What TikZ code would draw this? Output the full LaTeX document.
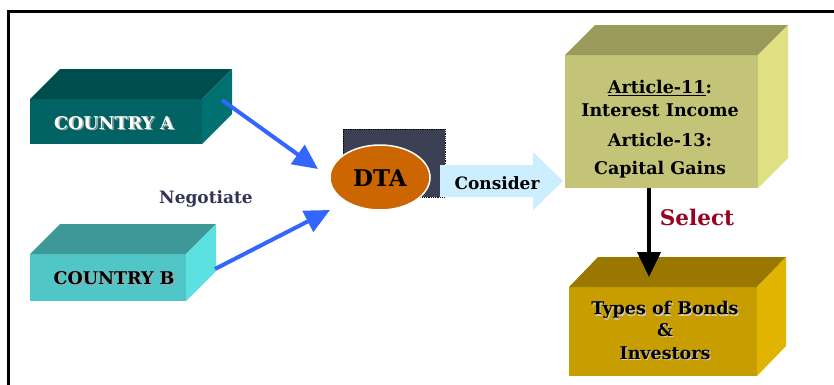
\documentclass[tikz,border=0pt]{standalone}
\usepackage{fontspec}
\setmainfont{DejaVu Serif}
\usetikzlibrary{arrows.meta,shapes.geometric}
\definecolor{caFront}{HTML}{006262}
\definecolor{caTop}{HTML}{004D4D}
\definecolor{caSide}{HTML}{007070}
\definecolor{cbFront}{HTML}{50C6C6}
\definecolor{cbTop}{HTML}{3D9898}
\definecolor{cbSide}{HTML}{5CE0E0}
\definecolor{arFront}{HTML}{C4C478}
\definecolor{arTop}{HTML}{9A9A5A}
\definecolor{arSide}{HTML}{E0E082}
\definecolor{bdFront}{HTML}{C89D00}
\definecolor{bdTop}{HTML}{9A7800}
\definecolor{bdSide}{HTML}{E0B400}
\definecolor{dtaBack}{HTML}{3B4055}
\definecolor{dtaOrange}{HTML}{CC6600}
\definecolor{consBlue}{HTML}{CCEEFF}
\definecolor{arrBlue}{HTML}{3366FF}
\definecolor{selRed}{HTML}{990022}
\definecolor{negText}{HTML}{333355}
\newcommand{\cubefaces}[4]{%
  \fill[#2] (#1.north west) -- ++(#4,-30) -- ([shift={(#4,-30)}]#1.north east) -- (#1.north east) -- cycle;
  \fill[#3] (#1.north east) -- ++(#4,-30) -- ([shift={(#4,-30)}]#1.south east) -- (#1.south east) -- cycle;
}
\newcommand{\bigbf}{\bfseries\fontsize{17.5}{20}\selectfont}
\tikzset{
  front/.style={inner sep=0pt, outer sep=0pt, anchor=center},
  lbl/.style={inner sep=0pt, font=\bigbf},
  shadowlbl/.style={inner sep=0pt, font=\bigbf, text=gray!70},
  bluearr/.style={arrBlue, line width=4pt, -{Triangle[length=25pt,width=23pt]}},
}
\begin{document}
\begin{tikzpicture}[x=1pt,y=-1pt]
\useasboundingbox (0,0) rectangle (834,384);
\fill[white] (0,0) rectangle (834,384);
\draw[line width=3pt] (8,400) -- (8,11) -- (860,11);

% Country A
\node[front, fill=caFront, minimum width=172pt, minimum height=45pt] (ca) at (116,121.5) {};
\cubefaces{ca}{caTop}{caSide}{30}
\node[shadowlbl] (cash) at (115.5,124.5) {COUNTRY A};
\node[lbl, text=white] (calbl) at (114,123) {COUNTRY A};

% Country B
\node[front, fill=cbFront, minimum width=156pt, minimum height=47pt] (cb) at (108,277.5) {};
\cubefaces{cb}{cbTop}{cbSide}{30}
\node[shadowlbl] (cbsh) at (115.5,279.5) {COUNTRY B};
\node[lbl, text=black] (cblbl) at (114,278) {COUNTRY B};

% Negotiate
\node[lbl, text=negText, font=\bfseries\fontsize{17}{20}\selectfont] (neg) at (206,199) {Negotiate};

% DTA
\node[front, fill=dtaBack, draw=black, densely dotted, line width=0.8pt, minimum width=102pt, minimum height=68pt] (dtaback) at (394,163) {};
\node[front, ellipse, fill=dtaOrange, draw=white, line width=1.5pt, minimum width=100pt, minimum height=65pt] (dta) at (380,177.5) {};
\node[lbl, font=\bfseries\fontsize{23}{26}\selectfont] (dtalbl) at (380,178) {DTA};

% Consider arrow
\fill[consBlue] (440,165) -- (533,165) -- (533,152) -- (563,181) -- (533,210) -- (533,197) -- (440,197) -- cycle;
\node[lbl, font=\bfseries\fontsize{17}{20}\selectfont] (cons) at (497,183) {Consider};

% Article box
\node[front, fill=arFront, minimum width=193pt, minimum height=133pt] (art) at (661.5,121.5) {};
\cubefaces{art}{arTop}{arSide}{30}
\node[lbl] (art1) at (660,88) {\underline{Article-11}:};
\node[lbl] (art2) at (660,110) {Interest Income};
\node[lbl] (art3) at (660,140) {Article-13:};
\node[lbl] (art4) at (660,170) {Capital Gains};

% Bonds box
\node[front, fill=bdFront, minimum width=188pt, minimum height=89pt] (bd) at (663,331.5) {};
\cubefaces{bd}{bdTop}{bdSide}{29}
\node[shadowlbl, text=gray!40] (bd1sh) at (666,311.5) {Types of Bonds};
\node[lbl] (bd1) at (665,310) {Types of Bonds};
\node[shadowlbl, text=gray!40] (bd2sh) at (666,331.5) {\&};
\node[lbl] (bd2) at (665,330) {\&};
\node[shadowlbl, text=gray!40] (bd3sh) at (666,354.5) {Investors};
\node[lbl] (bd3) at (665,353) {Investors};

% Select arrow
\coordinate (selstart) at (649,188);
\coordinate (selend) at (649,277);
\draw[black, line width=4pt, -{Triangle[length=25pt,width=23pt]}] (selstart) -- (selend);
\node[lbl, text=selRed, font=\bfseries\fontsize{21.5}{24}\selectfont] (sel) at (697,217) {Select};

% Blue arrows
\coordinate (aStart) at (222,100);
\coordinate (aEnd) at (318,169);
\coordinate (bStart) at (215,269);
\coordinate (bEnd) at (330,210);
\draw[bluearr] (aStart) -- (aEnd);
\draw[bluearr] (bStart) -- (bEnd);
\end{tikzpicture}
\end{document}
